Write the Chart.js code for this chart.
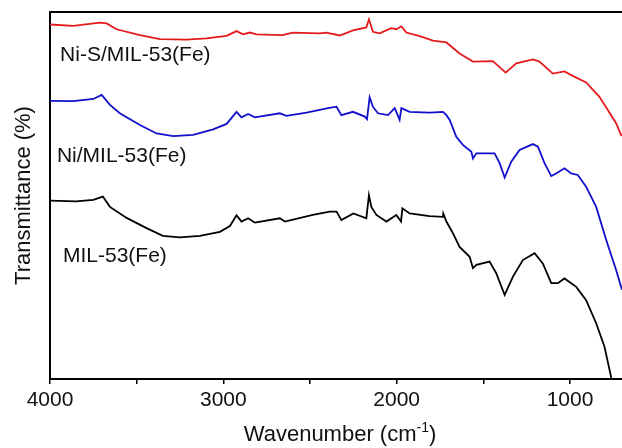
<!DOCTYPE html>
<html>
<head>
<meta charset="utf-8">
<script src="https://cdn.jsdelivr.net/npm/chart.js@4.4.0/dist/chart.umd.min.js"></script>
<style>
  html, body { margin: 0; padding: 0; background: #fff; }
  canvas { display: block; }
</style>
</head>
<body>
<canvas id="ftirChart" width="622" height="448"></canvas>
<script>
// FTIR spectra, wavenumber (cm-1) vs transmittance (arbitrary offset units)
const majorTicks = [4000, 3000, 2000, 1000];
const minorTicks = [3500, 2500, 1500];

const seriesNames = ['MIL-53(Fe)', 'Ni/MIL-53(Fe)', 'Ni-S/MIL-53(Fe)'];
const seriesColors = ['#000000', 'rgb(16,16,204)', 'rgb(228,26,28)'];

const milWn = [4000, 3850, 3750, 3695, 3654, 3558, 3443, 3349, 3251, 3135, 3020, 2962, 2924, 2895, 2857, 2818,
  2674, 2645, 2484, 2386, 2347, 2319, 2250, 2175, 2160, 2146, 2117, 2059, 2002, 1975, 1967, 1925, 1810, 1733,
  1731, 1713, 1675, 1637, 1579, 1560, 1540, 1464, 1425, 1377, 1329, 1272, 1204, 1157, 1108, 1070, 1032, 964,
  907, 849, 801, 763, 750];
const milT = [48.6, 48.4, 48.8, 49.7, 46.9, 43.9, 41.1, 39.0, 38.6, 39.0, 40.1, 41.7, 44.6, 42.9, 43.8, 42.6,
  43.8, 42.9, 44.7, 45.6, 45.6, 43.3, 45.1, 43.8, 50.1, 46.9, 44.7, 42.9, 44.7, 42.9, 46.5, 45.1, 44.4, 44.2,
  45.1, 42.9, 39.7, 36.0, 33.3, 30.2, 31.1, 32.0, 28.8, 22.9, 27.9, 32.4, 34.3, 31.5, 26.1, 26.1, 27.4, 25.1,
  21.5, 15.2, 8.8, 0.6, -4.4];

const niWn = [4000, 3866, 3750, 3702, 3654, 3597, 3481, 3385, 3289, 3174, 3059, 2981, 2962, 2924, 2895, 2857,
  2818, 2674, 2636, 2520, 2396, 2347, 2319, 2252, 2184, 2171, 2156, 2137, 2108, 2050, 2011, 1983, 1973, 1925,
  1810, 1733, 1713, 1694, 1656, 1618, 1569, 1560, 1540, 1435, 1406, 1377, 1339, 1291, 1214, 1185, 1147, 1108,
  1080, 1032, 993, 955, 907, 849, 791, 734, 705, 700];
const niT = [75.8, 75.7, 76.3, 77.4, 74.7, 72.4, 69.2, 66.9, 66.2, 66.5, 68.0, 69.5, 70.6, 72.8, 71.3, 72.2,
  71.3, 72.4, 71.7, 72.6, 73.8, 74.2, 71.9, 72.8, 71.5, 70.8, 76.8, 74.2, 72.4, 71.9, 73.8, 70.6, 73.8, 72.8,
  72.6, 72.8, 71.9, 70.6, 66.0, 63.8, 61.9, 60.1, 61.5, 61.5, 58.8, 54.9, 59.2, 62.4, 64.0, 63.3, 58.8, 55.3,
  56.0, 57.4, 56.0, 55.6, 52.4, 46.9, 37.9, 29.7, 25.1, 24.3];

const nisWn = [4000, 3866, 3712, 3673, 3616, 3481, 3366, 3212, 3097, 2981, 2924, 2886, 2847, 2809, 2657, 2599,
  2444, 2405, 2328, 2252, 2175, 2160, 2137, 2098, 2031, 2002, 1973, 1944, 1867, 1791, 1713, 1637, 1560, 1445,
  1371, 1310, 1214, 1176, 1099, 1032, 984, 907, 830, 753, 734, 703];
const nisT = [96.6, 96.2, 97.1, 96.9, 95.3, 93.7, 92.6, 92.5, 92.8, 93.5, 94.8, 93.9, 94.4, 93.9, 93.7, 94.4,
  94.2, 94.4, 93.6, 95.0, 95.8, 98.0, 94.6, 94.2, 95.6, 95.3, 96.1, 94.4, 93.4, 92.2, 91.7, 88.7, 86.5, 86.6,
  83.5, 86.0, 87.1, 86.5, 83.2, 83.8, 82.6, 80.8, 76.9, 71.1, 69.7, 66.2];

function toPoints(xs, ys) {
  return xs.map((x, i) => ({ x: x, y: ys[i] }));
}

const fontFamily = '"Liberation Sans", Arial, sans-serif';

// sample names written next to each trace (wavenumber / transmittance anchor)
const traceLabels = [
  { text: seriesNames[2], wn: 3942, t: 88.3 },
  { text: seriesNames[1], wn: 3960, t: 60.8 },
  { text: seriesNames[0], wn: 3925, t: 33.5 }
];

const framePlugin = {
  id: 'frame',
  afterDraw(chart) {
    const ctx = chart.ctx;
    const area = chart.chartArea;
    const xs = chart.scales.x;
    const ys = chart.scales.y;
    ctx.save();
    // top border of the plot box
    ctx.strokeStyle = '#000';
    ctx.lineWidth = 2;
    ctx.beginPath();
    ctx.moveTo(area.left - 1, area.top);
    ctx.lineTo(area.right, area.top);
    ctx.stroke();

    // trace labels
    ctx.fillStyle = '#111';
    ctx.font = '21px ' + fontFamily;
    ctx.textAlign = 'left';
    ctx.textBaseline = 'middle';
    traceLabels.forEach(l => {
      ctx.fillText(l.text, xs.getPixelForValue(l.wn), ys.getPixelForValue(l.t));
    });

    // x axis title with superscript
    const big = '22px ' + fontFamily;
    const small = '14px ' + fontFamily;
    const partA = 'Wavenumber (cm';
    const partB = '-1';
    const partC = ')';
    ctx.font = big;
    const wA = ctx.measureText(partA).width;
    const wC = ctx.measureText(partC).width;
    ctx.font = small;
    const wB = ctx.measureText(partB).width;
    const total = wA + wB + wC;
    let x = (area.left + area.right) / 2 - total / 2 + 4;
    const baseY = 441;
    ctx.textBaseline = 'alphabetic';
    ctx.font = big;
    ctx.fillText(partA, x, baseY);
    x += wA;
    ctx.font = small;
    ctx.fillText(partB, x, baseY - 9);
    x += wB;
    ctx.font = big;
    ctx.fillText(partC, x, baseY);
    ctx.restore();
  }
};

function createChart() {
  const ctx = document.getElementById('ftirChart');
  const lists = [[milWn, milT], [niWn, niT], [nisWn, nisT]];
  new Chart(ctx, {
    type: 'line',
    data: {
      datasets: lists.map((d, i) => ({
        label: seriesNames[i],
        data: toPoints(d[0], d[1]),
        borderColor: seriesColors[i],
        borderWidth: 1.8,
        pointRadius: 0,
        tension: 0,
        fill: false
      }))
    },
    options: {
      responsive: false,
      animation: false,
      layout: { padding: { top: 12, left: 0, right: 0, bottom: 0 } },
      plugins: {
        legend: { display: false },
        tooltip: { enabled: false }
      },
      scales: {
        x: {
          type: 'linear',
          reverse: true,
          min: 700,
          max: 4000,
          afterBuildTicks: s => {
            s.ticks = majorTicks.concat(minorTicks).sort((a, b) => b - a).map(v => ({ value: v }));
          },
          afterFit: s => { s.height = 69; },
          ticks: {
            autoSkip: false,
            maxRotation: 0,
            padding: 4,
            color: '#111',
            font: { family: fontFamily, size: 21 },
            callback: v => (majorTicks.includes(v) ? String(v) : '')
          },
          grid: {
            display: true,
            drawOnChartArea: false,
            drawTicks: true,
            tickLength: 5,
            color: '#000',
            lineWidth: 1.5
          },
          border: { display: true, color: '#000', width: 2 }
        },
        y: {
          min: 0,
          max: 100,
          afterFit: s => { s.width = 50; },
          ticks: { display: false },
          grid: { display: false },
          border: { display: true, color: '#000', width: 2 },
          title: {
            display: true,
            text: 'Transmittance (%)',
            color: '#111',
            font: { family: fontFamily, size: 22 },
            padding: { top: 11, bottom: 0 }
          }
        }
      }
    },
    plugins: [framePlugin]
  });
}

if (typeof Chart === 'undefined') {
  window.addEventListener('load', createChart);
} else {
  createChart();
}
</script>
</body>
</html>
